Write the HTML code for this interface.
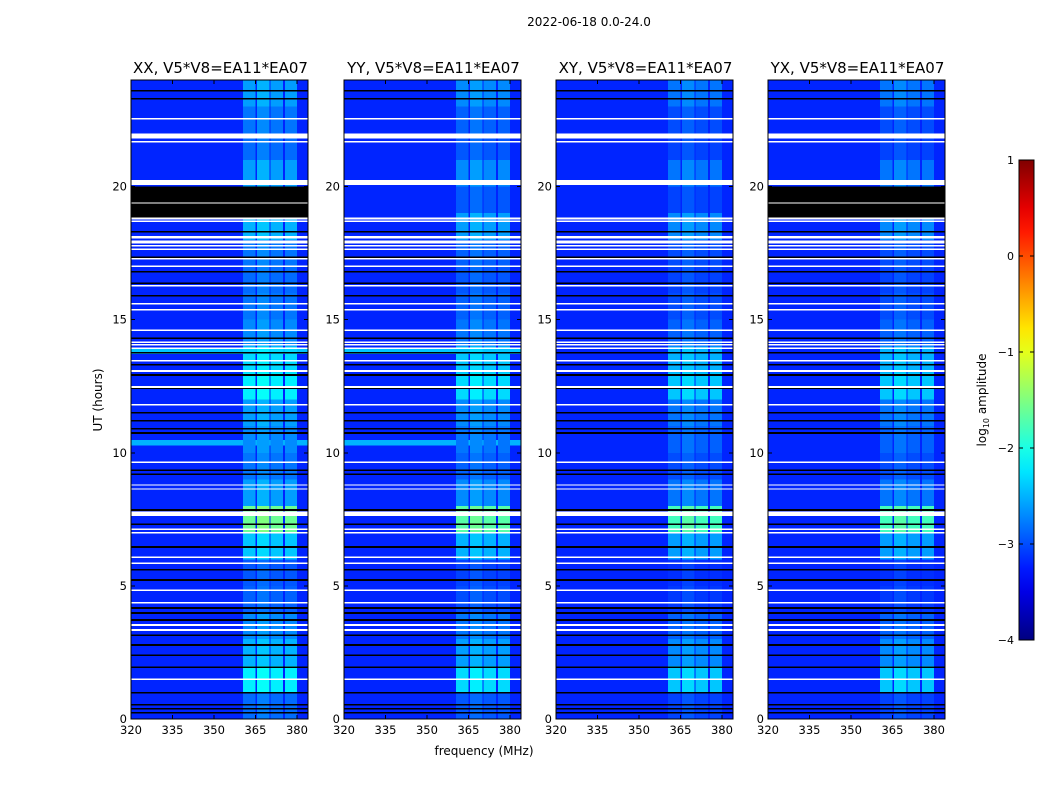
<!DOCTYPE html>
<html><head><meta charset="utf-8"><style>
body{margin:0;background:#fff;}
svg{display:block;font-family:"DejaVu Sans","Liberation Sans",sans-serif;}
</style></head><body>
<svg id="fig" width="1050" height="800">
<text x="589" y="26" font-size="12" text-anchor="middle">2022-06-18 0.0-24.0</text>
<text x="484" y="755" font-size="12" text-anchor="middle">frequency (MHz)</text>
<text transform="translate(102,400) rotate(-90)" font-size="12" text-anchor="middle">UT (hours)</text>
<text transform="translate(986,400) rotate(-90)" font-size="12" text-anchor="middle">log<tspan font-size="8" dy="3">10</tspan><tspan dy="-3"> amplitude</tspan></text>
</svg>
<script>
const panelTitles=["XX, V5*V8=EA11*EA07","YY, V5*V8=EA11*EA07","XY, V5*V8=EA11*EA07","YX, V5*V8=EA11*EA07"];
const xTicks=[320,335,350,365,380];
const yTicks=[0,5,10,15,20];
const cbTicks=[1,0,-1,-2,-3,-4];
const bandStarts=[360.5,365.5,370.5,375.7];
const bandEnds=[365,370,375,380];
// band log-amplitude per hour (0..23)
const bandLevel=[-2.75,-2.1,-2.4,-2.6,-2.8,-2.85,-2.3,-1.5,-2.5,-2.7,-2.6,-2.5,-2.1,-2.2,-2.6,-2.7,-2.75,-2.7,-2.4,-2.75,-2.5,-2.75,-2.7,-2.5];
const bgLevel=-3.2;
const whiteRows=[22.55,21.68,18.8,18.7,17.95,17.88,17.77,17.65,17.28,17.0,16.27,15.6,15.37,14.6,14.15,14.05,13.93,13.45,13.07,12.47,11.8,9.65,7.13,6.99,6.08,5.85,4.84,4.36,3.53,1.5];
const whiteBlocks=[[21.8,22.0],[20.05,20.25],[18.05,18.15],[7.62,7.8],[3.3,3.38],[8.62,8.66],[8.77,8.81]];
const blackRows=[23.6,23.3,18.3,17.35,16.8,16.37,15.9,14.3,13.75,13.3,12.92,12.43,11.2,10.74,9.35,7.85,7.32,6.46,5.6,5.22,4.17,3.98,3.72,3.15,2.78,2.4,1.95,0.98,0.53,0.38,0.23,11.5,9.2,10.9];
const brightRows=[[13.8,-2.4],[10.38,-2.5]];
const brightRowPanels=[true,true,false,false];
const panelBandOffset=[0,-0.1,-0.2,-0.2];
const blackBlockPanels=[true,false,false,true];
const blackBlock=[18.8,20.0];
const panelLeft=[131,344,556,768];
const plotW=177,plotTop=80,plotBot=719;
const NS="http://www.w3.org/2000/svg";
const svg=document.getElementById('fig');
svg.setAttribute('shape-rendering','crispEdges');
function jet(v){v=Math.max(0,Math.min(1,v));
 const r=Math.max(0,Math.min(1,1.5-Math.abs(4*v-3))),g=Math.max(0,Math.min(1,1.5-Math.abs(4*v-2))),b=Math.max(0,Math.min(1,1.5-Math.abs(4*v-1)));
 return `rgb(${Math.round(r*255)},${Math.round(g*255)},${Math.round(b*255)})`;}
function col(l){return jet((l+4)/5);}
function mk(tag,attrs,parent){const e=document.createElementNS(NS,tag);for(const k in attrs)e.setAttribute(k,attrs[k]);(parent||svg).appendChild(e);return e;}
const yS=h=>plotBot-(h/24)*(plotBot-plotTop);
panelLeft.forEach((x0,p)=>{
 const xS=f=>x0+(f-320)/64*plotW;
 const g=mk('g',{});
 
 
 const bg=mk('rect',{x:x0,y:plotTop,width:plotW,height:plotBot-plotTop,fill:col(bgLevel)},g);
 
 
 if(brightRowPanels[p]) brightRows.forEach(r=>{const e=mk('rect',{x:x0,y:yS(r[0]+0.1),width:plotW,height:yS(r[0]-0.1)-yS(r[0]+0.1),fill:col(r[1])},g);
  
  });
 bandLevel.forEach((lv,h)=>{bandStarts.forEach((fs,b)=>{
  const e=mk('rect',{x:xS(fs),y:yS(h+1),width:xS(bandEnds[b])-xS(fs),height:yS(h)-yS(h+1),fill:col(lv+panelBandOffset[p]-(b===1?0:0.1))},g);
  
  });});
 if(blackBlockPanels[p]){const e=mk('rect',{x:x0,y:yS(blackBlock[1]),width:plotW,height:yS(blackBlock[0])-yS(blackBlock[1]),fill:'#000'},g);
  
  
  const w=mk('rect',{x:x0,y:yS(19.4),width:plotW,height:1.2,fill:'#fff'},g);
  
  }
 blackRows.forEach(h=>{const e=mk('rect',{x:x0,y:yS(h)-0.8,width:plotW,height:1.6,fill:'#000'},g);
  
  });
 whiteRows.forEach(h=>{const e=mk('rect',{x:x0,y:yS(h)-0.8,width:plotW,height:1.6,fill:'#fff'},g);
  
  });
 whiteBlocks.forEach(b=>{const e=mk('rect',{x:x0,y:yS(b[1]),width:plotW,height:yS(b[0])-yS(b[1]),fill:'#fff'},g);
  
  });
 const fr=mk('rect',{x:x0,y:plotTop,width:plotW,height:plotBot-plotTop,fill:'none',stroke:'#000','stroke-width':1},g);
 
 
 xTicks.forEach(t=>{const x=xS(t);
  mk('line',{x1:x,x2:x,y1:plotBot,y2:plotBot-4,stroke:'#000'},g);
  mk('line',{x1:x,x2:x,y1:plotTop,y2:plotTop+4,stroke:'#000'},g);
  const tx=mk('text',{x:x,y:plotBot+15,'font-size':11.5,'text-anchor':'middle'},g);tx.textContent=t;
  
  });
 yTicks.forEach(t=>{const y=yS(t);
  mk('line',{x1:x0,x2:x0+4,y1:y,y2:y,stroke:'#000'},g);
  mk('line',{x1:x0+plotW,x2:x0+plotW-4,y1:y,y2:y,stroke:'#000'},g);
  const tx=mk('text',{x:x0-4,y:y+4,'font-size':11.5,'text-anchor':'end'},g);tx.textContent=t;
  
  });
 const tt=mk('text',{x:x0+plotW/2+1,y:73,'font-size':15,'text-anchor':'middle'},g);tt.textContent=panelTitles[p];
 
 
});
// colorbar
const defs=mk('defs',{});const lg=mk('linearGradient',{id:'jetg',x1:0,y1:1,x2:0,y2:0},defs);
for(let i=0;i<=20;i++){mk('stop',{offset:i/20,'stop-color':jet(i/20)},lg);}
const cbTop=160,cbBot=640,cbX=1019,cbW=15;
const cb=mk('rect',{x:cbX,y:cbTop,width:cbW,height:cbBot-cbTop,fill:'url(#jetg)',stroke:'#000'});


cbTicks.forEach(t=>{const y=cbBot-(t+4)/5*(cbBot-cbTop);
 mk('line',{x1:cbX,x2:cbX+4,y1:y,y2:y,stroke:'#000'});
 mk('line',{x1:cbX+cbW,x2:cbX+cbW-4,y1:y,y2:y,stroke:'#000'});
 const tx=mk('text',{x:1014,y:y+4,'font-size':11,'text-anchor':'end'});tx.textContent=(t<0?'\u2212'+(-t):t);
 
 });
</script>
</body></html>
